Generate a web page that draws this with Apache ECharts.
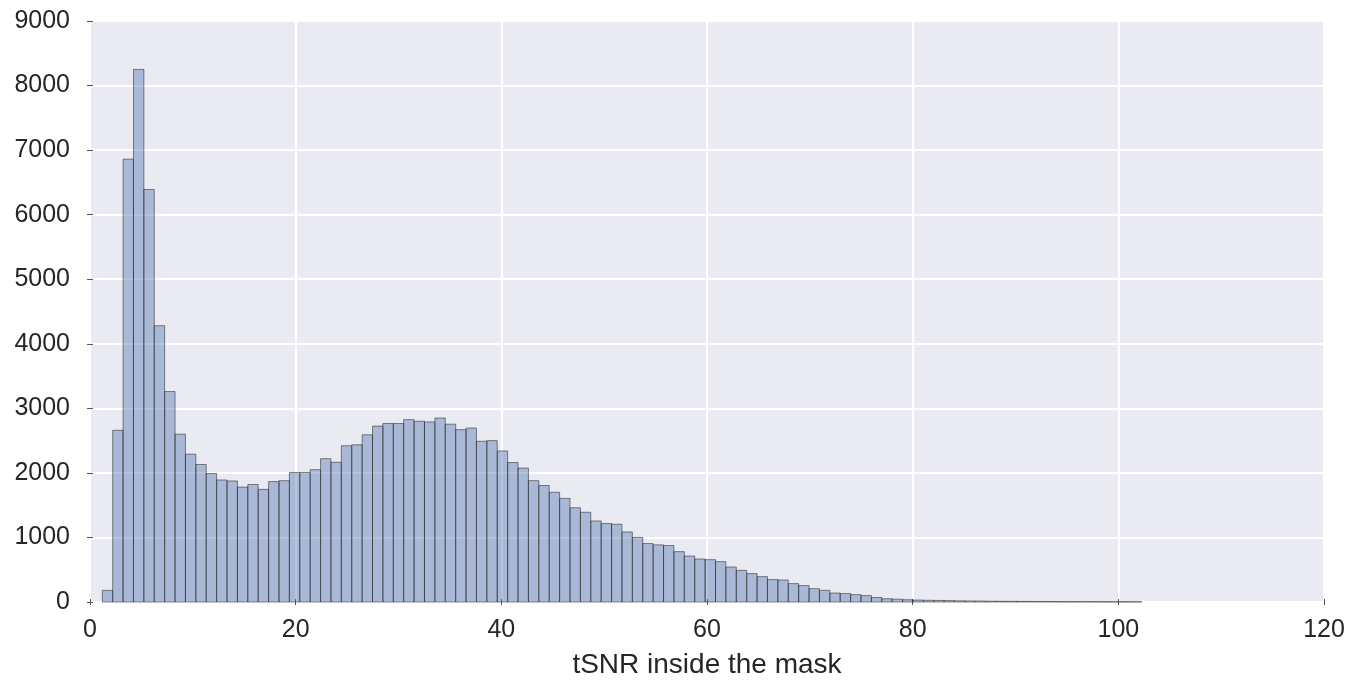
<!DOCTYPE html>
<html>
<head>
<meta charset="utf-8">
<script src="https://cdn.jsdelivr.net/npm/echarts@6/dist/echarts.min.js"></script>
<style>html,body{margin:0;padding:0;background:#fff}#c{width:1350px;height:684px}</style>
</head>
<body>
<div id="c"></div>
<script>
const binStart = 1.196;
const binWidth = 1.0107;
const counts = [
  180, 2660, 6860, 8250, 6390, 4280, 3260, 2600, 2290, 2130,
  1990, 1890, 1875, 1780, 1820, 1745, 1865, 1880, 2005, 2005,
  2050, 2220, 2165, 2420, 2435, 2590, 2725, 2765, 2765, 2825,
  2800, 2790, 2850, 2755, 2670, 2695, 2490, 2500, 2340, 2160,
  2075, 1880, 1805, 1700, 1605, 1460, 1390, 1255, 1215, 1205,
  1085, 1000, 905, 885, 875, 780, 712, 666, 656, 625,
  542, 491, 440, 393, 347, 341, 285, 254, 207, 181,
  139, 130, 114, 99, 70, 50, 44, 35, 30, 26,
  24, 22, 18, 16, 15, 12, 11, 10, 9, 8,
  8, 7, 6, 6, 5, 5, 4, 4, 4, 3
];
const xTicks = [0, 20, 40, 60, 80, 100, 120];
const yTicks = [0, 1000, 2000, 3000, 4000, 5000, 6000, 7000, 8000, 9000];
const xLabel = 'tSNR inside the mask';

const data = counts.map((c, i) => [binStart + i * binWidth, binStart + (i + 1) * binWidth, c]);

const font = 'Liberation Sans, Arial, sans-serif';
const chart = echarts.init(document.getElementById('c'));
chart.setOption({
  animation: false,
  backgroundColor: '#ffffff',
  grid: {left: 90, right: 26, top: 21, bottom: 81, show: true, backgroundColor: '#EAEAF2', borderWidth: 0},
  xAxis: [{
    type: 'value', min: xTicks[0], max: xTicks[xTicks.length - 1], interval: 20,
    name: xLabel, nameLocation: 'middle', nameGap: 49,
    nameTextStyle: {fontFamily: font, fontSize: 28, color: '#262626'},
    axisLine: {show: false},
    axisTick: {show: true, length: 3, lineStyle: {color: '#555', width: 1}},
    axisLabel: {fontFamily: font, fontSize: 25, color: '#262626', margin: 16, formatter: v => String(v)},
    splitLine: {show: true, lineStyle: {color: '#ffffff', width: 2}}
  }, {
    type: 'value', position: 'top', min: xTicks[0], max: xTicks[xTicks.length - 1], interval: 20,
    axisLine: {show: false}, axisLabel: {show: false}, splitLine: {show: false},
    axisTick: {show: true, length: 3, lineStyle: {color: '#555', width: 1}}
  }],
  yAxis: [{
    type: 'value', min: yTicks[0], max: yTicks[yTicks.length - 1], interval: 1000,
    axisLine: {show: false},
    axisTick: {show: true, length: 3, lineStyle: {color: '#555', width: 1}},
    axisLabel: {fontFamily: font, fontSize: 25, color: '#262626', margin: 20, formatter: v => String(v)},
    splitLine: {show: true, lineStyle: {color: '#ffffff', width: 2}}
  }, {
    type: 'value', position: 'right', min: yTicks[0], max: yTicks[yTicks.length - 1], interval: 1000,
    axisLine: {show: false}, axisLabel: {show: false}, splitLine: {show: false},
    axisTick: {show: true, length: 3, lineStyle: {color: '#555', width: 1}}
  }],
  series: [{
    type: 'custom',
    xAxisIndex: 0, yAxisIndex: 0,
    data: data,
    encode: {x: [0, 1], y: 2},
    renderItem: function (params, api) {
      const p0 = api.coord([api.value(0), 0]);
      const p1 = api.coord([api.value(1), api.value(2)]);
      return {
        type: 'rect',
        shape: {x: p0[0], y: p1[1], width: p1[0] - p0[0], height: p0[1] - p1[1]},
        style: {fill: 'rgba(76,114,176,0.42)', stroke: 'rgba(38,38,38,0.55)', lineWidth: 1}
      };
    }
  }]
});
</script>
</body>
</html>
